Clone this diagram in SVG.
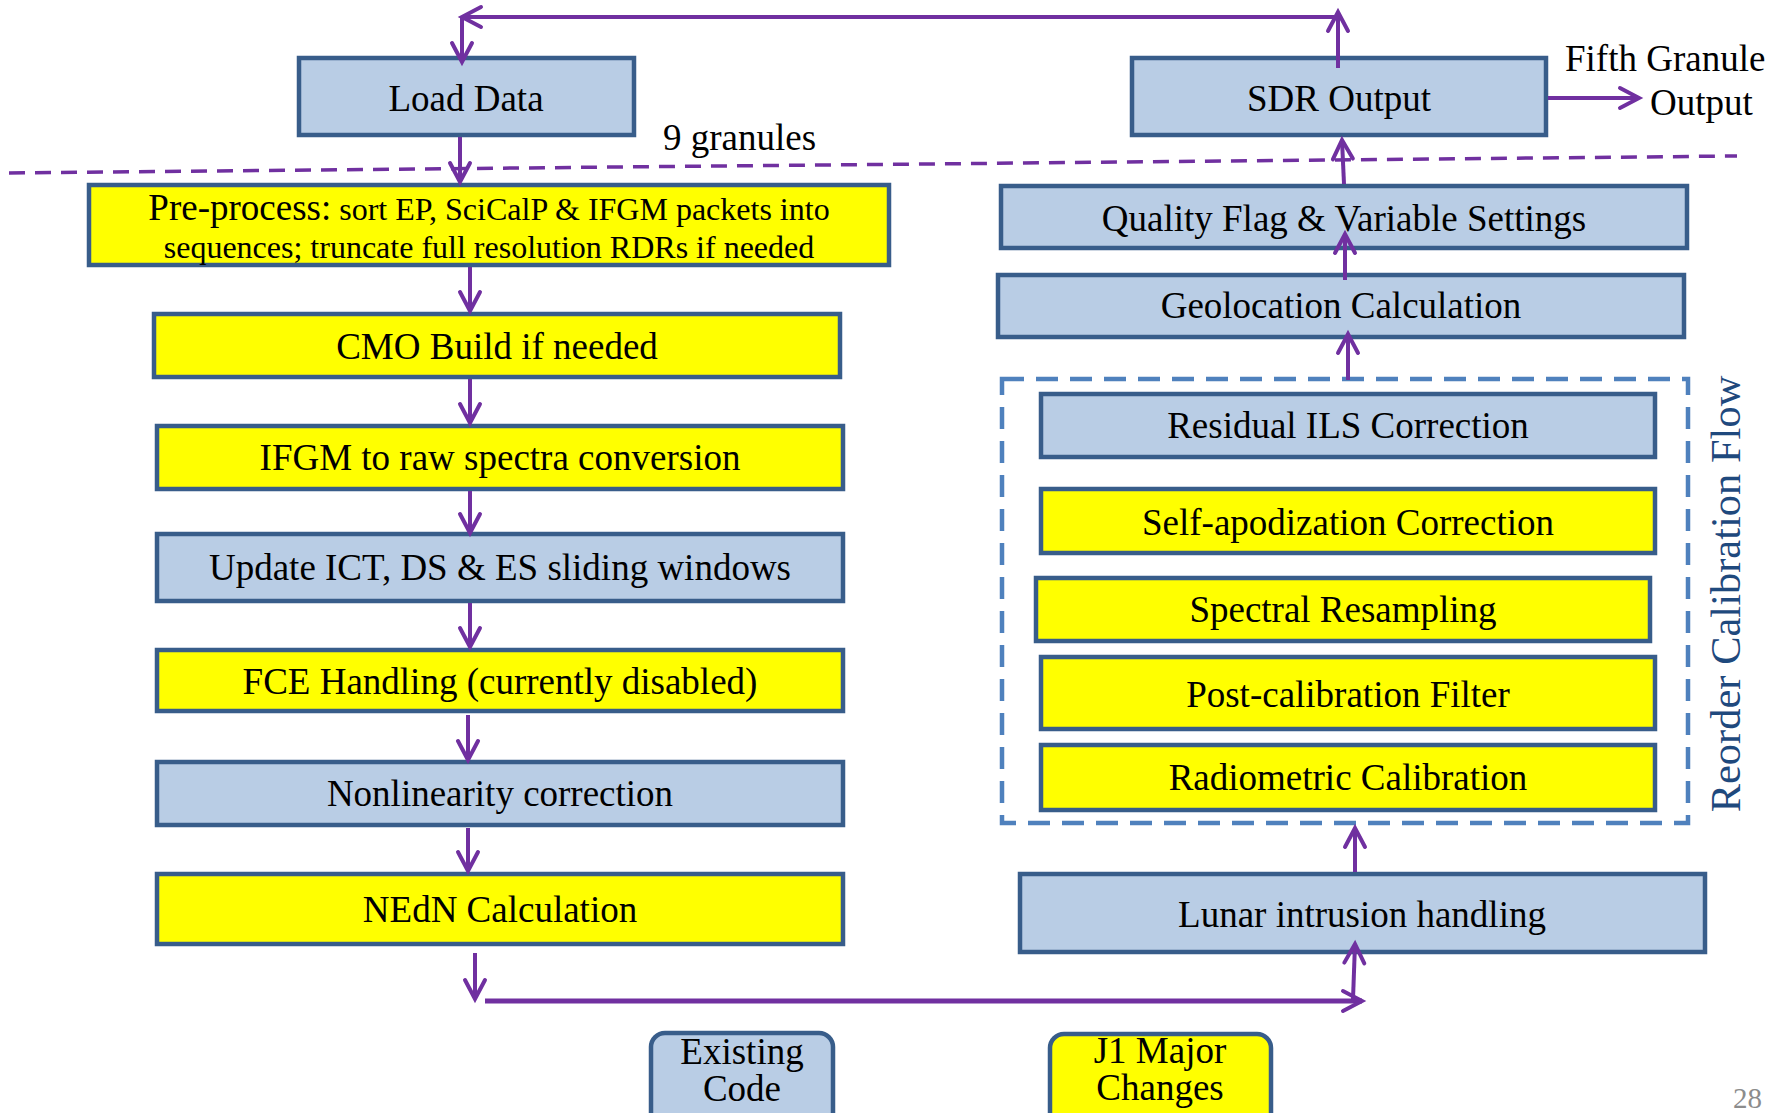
<svg xmlns="http://www.w3.org/2000/svg" width="1781" height="1113" viewBox="0 0 1781 1113">
<defs>
<style>
.blue{fill:#B9CDE5;stroke:#385D8A;stroke-width:4.5}
.yel{fill:#FFFF00;stroke:#385D8A;stroke-width:4.5}
.t{font-family:"Liberation Serif","Times New Roman",serif;font-size:37px;fill:#000;text-anchor:middle}
.s{font-size:32px}
.c{fill:none;stroke:#7030A0;stroke-width:4;marker-end:url(#arr)}
</style>
<marker id="arr" markerUnits="userSpaceOnUse" viewBox="0 0 26 26" refX="22" refY="13" markerWidth="26" markerHeight="26" orient="auto" overflow="visible">
<path d="M3,3 L22,13 L3,23" fill="none" stroke="#7030A0" stroke-width="4" stroke-linecap="round" stroke-linejoin="miter"/>
</marker>
</defs>
<rect width="1781" height="1113" fill="#fff"/>

<g id="separator">
<line x1="9" y1="173" x2="1737" y2="156" stroke="#7030A0" stroke-width="3.5" stroke-dasharray="16 10"/>
<text class="t" x="663" y="150" style="text-anchor:start">9 granules</text>
</g>

<g id="reorder-group">
<rect x="1002" y="379" width="686" height="444" fill="none" stroke="#4F81BD" stroke-width="4.5" stroke-dasharray="22 12"/>
<text class="t" transform="translate(1740,594) rotate(-90)" style="fill:#1F497D;font-size:42.5px">Reorder Calibration Flow</text>
</g>

<g id="load-data"><rect class="blue" x="299" y="58" width="335" height="77"/><text class="t" x="466" y="111">Load Data</text></g>
<g id="sdr-output"><rect class="blue" x="1132" y="58" width="414" height="77"/><text class="t" x="1339" y="111">SDR Output</text></g>
<g id="fifth-granule"><text class="t" x="1565" y="71" style="text-anchor:start">Fifth Granule</text><text class="t" x="1650" y="115" style="text-anchor:start">Output</text></g>

<g id="pre-process"><rect class="yel" x="89" y="185" width="800" height="80"/>
<text class="t" x="489" y="220">Pre-process:<tspan class="s"> sort EP, SciCalP &amp; IFGM packets into</tspan></text>
<text class="t s" x="489" y="258">sequences; truncate full resolution RDRs if needed</text></g>
<g id="cmo"><rect class="yel" x="154" y="314" width="686" height="63"/><text class="t" x="497" y="359">CMO Build if needed</text></g>
<g id="ifgm"><rect class="yel" x="157" y="426" width="686" height="63"/><text class="t" x="500" y="470">IFGM to raw spectra conversion</text></g>
<g id="update"><rect class="blue" x="157" y="534" width="686" height="67"/><text class="t" x="500" y="580">Update ICT, DS &amp; ES sliding windows</text></g>
<g id="fce"><rect class="yel" x="157" y="650" width="686" height="61"/><text class="t" x="500" y="694">FCE Handling (currently disabled)</text></g>
<g id="nonlinearity"><rect class="blue" x="157" y="762" width="686" height="63"/><text class="t" x="500" y="806">Nonlinearity correction</text></g>
<g id="nedn"><rect class="yel" x="157" y="874" width="686" height="70"/><text class="t" x="500" y="922">NEdN Calculation</text></g>

<g id="quality"><rect class="blue" x="1001" y="186" width="686" height="62"/><text class="t" x="1344" y="231">Quality Flag &amp; Variable Settings</text></g>
<g id="geolocation"><rect class="blue" x="998" y="275" width="686" height="62"/><text class="t" x="1341" y="318">Geolocation Calculation</text></g>
<g id="residual-ils"><rect class="blue" x="1041" y="394" width="614" height="63"/><text class="t" x="1348" y="438">Residual ILS Correction</text></g>
<g id="self-apod"><rect class="yel" x="1041" y="489" width="614" height="64"/><text class="t" x="1348" y="535">Self-apodization Correction</text></g>
<g id="spectral"><rect class="yel" x="1036" y="578" width="614" height="63"/><text class="t" x="1343" y="622">Spectral Resampling</text></g>
<g id="post-cal"><rect class="yel" x="1041" y="657" width="614" height="72"/><text class="t" x="1348" y="707">Post-calibration Filter</text></g>
<g id="radiometric"><rect class="yel" x="1041" y="745" width="614" height="65"/><text class="t" x="1348" y="790">Radiometric Calibration</text></g>
<g id="lunar"><rect class="blue" x="1020" y="874" width="685" height="78"/><text class="t" x="1362" y="927">Lunar intrusion handling</text></g>

<g id="legend-existing"><rect class="blue" x="651" y="1033" width="182" height="100" rx="14"/><text class="t" x="742" y="1064">Existing</text><text class="t" x="742" y="1101">Code</text></g>
<g id="legend-j1"><rect class="yel" x="1050" y="1034" width="221" height="100" rx="14"/><text class="t" x="1160" y="1063">J1 Major</text><text class="t" x="1160" y="1100">Changes</text></g>

<text x="1733" y="1108" style="font-family:'Liberation Serif','Times New Roman',serif;font-size:29px;fill:#8C8C8C">28</text>

<g id="connectors">
<path class="c" d="M1338,68 L1338,12"/>
<path class="c" d="M1338,17 L462,17"/>
<path class="c" d="M462,17 L462,62"/>
<path class="c" d="M460,137 L460,182"/>
<path class="c" d="M470,267 L470,311"/>
<path class="c" d="M470,379 L470,423"/>
<path class="c" d="M470,491 L470,533"/>
<path class="c" d="M470,603 L470,647"/>
<path class="c" d="M468,715 L468,760"/>
<path class="c" d="M468,828 L468,871"/>
<path class="c" d="M475,953 L475,999"/>
<path class="c" d="M485,1001 L1362,1001" style="stroke-width:5"/>
<path class="c" d="M1353,999 L1355,944"/>
<path class="c" d="M1355,872 L1355,828"/>
<path class="c" d="M1348,380 L1348,334"/>
<path class="c" d="M1345,280 L1345,234"/>
<path class="c" d="M1344,184 L1342,140"/>
<path class="c" d="M1548,98 L1639,98"/>
</g>
</svg>
